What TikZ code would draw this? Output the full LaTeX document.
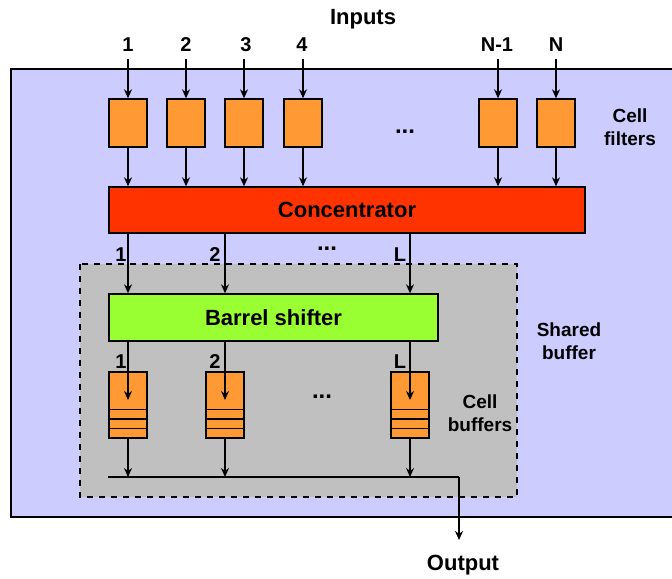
\documentclass[tikz,border=0pt]{standalone}
\usepackage{fontspec}
\setmainfont{Liberation Sans}
\usetikzlibrary{arrows.meta,calc}

\definecolor{boardblue}{HTML}{CCCCFF}
\definecolor{cellorange}{HTML}{FF9933}
\definecolor{concred}{HTML}{FF3300}
\definecolor{shiftgreen}{HTML}{99FF33}
\definecolor{sharedgray}{HTML}{C0C0C0}

\begin{document}
\begin{tikzpicture}[x=0.5pt, y=-0.5pt,
    filter/.style={draw, fill=cellorange, line width=0.7pt, minimum width=19pt, minimum height=24pt, inner sep=0pt},
    wide/.style={draw, line width=0.7pt, inner sep=0pt, font=\fontsize{11}{13}\selectfont\bfseries},
    buffer/.style={draw, fill=cellorange, line width=0.7pt, minimum width=19pt, minimum height=33pt, inner sep=0pt,
        path picture={\foreach \k in {1,2,3}
            \draw[line width=0.7pt] ($(path picture bounding box.south west)!\k/7!(path picture bounding box.north west)$)
                -- ($(path picture bounding box.south east)!\k/7!(path picture bounding box.north east)$);}},
    lbl/.style={font=\fontsize{10}{12}\selectfont\bfseries},
    side/.style={font=\fontsize{9.5}{11.5}\selectfont\bfseries, align=center},
    arrow/.style={-{Stealth[length=4.5pt, width=4pt]}, line width=0.7pt}
]
\clip (0,0) rectangle (672,578);

% Switch board and shared buffer area
\draw[fill=boardblue, line width=0.75pt] (11,69) rectangle (690,517);
\draw[fill=sharedgray, line width=0.75pt, dashed] (80,264) rectangle (517,497);

% Inputs
\node[font=\fontsize{11}{13}\selectfont\bfseries] (inputs) at (363,19) {Inputs};
\node[lbl] (in1) at (128,45) {1};
\node[lbl] (in2) at (186,45) {2};
\node[lbl] (in3) at (246,45) {3};
\node[lbl] (in4) at (302,45) {4};
\node[lbl] (inNm) at (497,45) {N-1};
\node[lbl] (inN) at (556,45) {N};

% Cell filters
\node[filter] (f1) at (128,123) {};
\node[filter] (f2) at (186,123) {};
\node[filter] (f3) at (244,123) {};
\node[filter] (f4) at (303,123) {};
\node[filter] (fNm) at (498,123) {};
\node[filter] (fN) at (556,123) {};
\node[lbl, font=\fontsize{12}{14}\selectfont\bfseries] (fdots) at (405,132) {...};
\node[side] (filters) at (630,127) {Cell\\filters};

% Concentrator and barrel shifter
\node[wide, fill=concred, minimum width=238pt, minimum height=23pt] (conc) at (347,210) {Concentrator};
\node[wide, fill=shiftgreen, minimum width=164.5pt, minimum height=23.5pt] (bs) at (273.5,317.5) {Barrel shifter};

% Cell buffers
\node[buffer] (b1) at (128,405) {};
\node[buffer] (b2) at (225,405) {};
\node[buffer] (bL) at (410,405) {};
\node[lbl, font=\fontsize{12}{14}\selectfont\bfseries] (bdots) at (322,397) {...};
\node[side] (buffers) at (480,413) {Cell\\buffers};
\node[side] (shared) at (569,341) {Shared\\buffer};

% Line labels
\node[lbl] (c1) at (121,255) {1};
\node[lbl] (c2) at (215,255) {2};
\node[lbl, font=\fontsize{12}{14}\selectfont\bfseries] (cdots) at (327,249) {...};
\node[lbl] (cL) at (400,255) {L};
\node[lbl] (s1) at (121,362) {1};
\node[lbl] (s2) at (215,362) {2};
\node[lbl] (sL) at (400,362) {L};

% Output
\node[font=\fontsize{11}{13}\selectfont\bfseries] (out) at (463,565) {Output};
\coordinate (busl) at (108,477);
\coordinate (busr) at (459,477);

% Arrows into the cell filters
\foreach \i in {1,2,3,4,Nm,N}
    \draw[arrow] (f\i.north |- in\i.south) -- (f\i.north);

% Arrows from the filters to the concentrator
\foreach \i in {1,2,3,4,Nm,N}
    \draw[arrow] (f\i.south) -- (f\i.south |- conc.north);

% Concentrator -> barrel shifter -> buffers
\foreach \i in {1,2,L} {
    \draw[arrow] (conc.south -| b\i) -- (bs.north -| b\i);
    \draw[arrow] (bs.south -| b\i) -- ([yshift=2.5pt]b\i.center);
    \draw[arrow] (b\i.south) -- (b\i.south |- busl);
}

% Output bus
\draw[line width=0.7pt] (busl) -- (busr);
\draw[arrow] (busr) -- ([yshift=4pt]busr |- out.north);

\end{tikzpicture}
\end{document}
